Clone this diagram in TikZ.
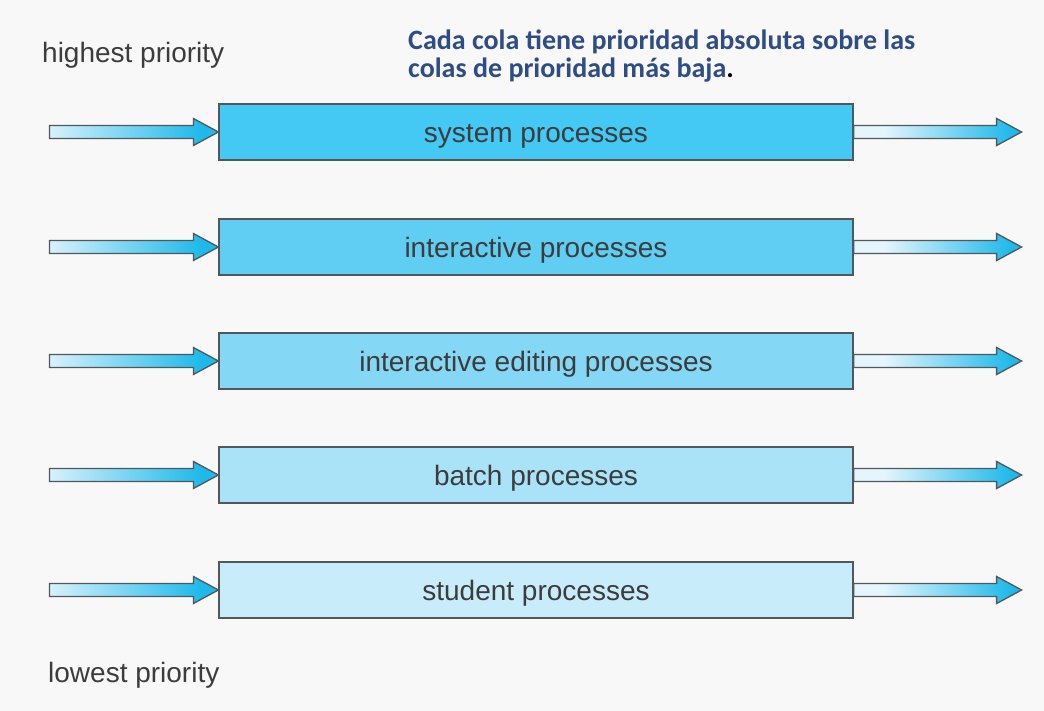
\documentclass[tikz,border=0pt]{standalone}
\usepackage{fontspec}
\setmainfont{Liberation Sans}
\newfontfamily\calfont{Carlito}
\usetikzlibrary{calc}
\definecolor{bg}{RGB}{248,248,248}
\definecolor{boxA}{RGB}{68,200,244}
\definecolor{boxB}{RGB}{96,205,243}
\definecolor{boxC}{RGB}{132,215,245}
\definecolor{boxD}{RGB}{170,226,248}
\definecolor{boxE}{RGB}{200,236,250}
\definecolor{edge}{RGB}{80,88,92}
\definecolor{txt}{RGB}{60,60,60}
\definecolor{title}{RGB}{46,76,133}
\definecolor{arrlight}{RGB}{228,245,252}
\definecolor{arrcyan}{RGB}{30,185,234}
\pgfdeclarehorizontalshading{inarrow}{100bp}{color(0bp)=(arrlight); color(22bp)=(arrlight); color(70bp)=(arrcyan); color(100bp)=(arrcyan)}
\pgfdeclarehorizontalshading{outarrow}{100bp}{color(0bp)=(boxC); color(25bp)=(arrlight); color(34bp)=(arrlight); color(72bp)=(arrcyan); color(100bp)=(arrcyan)}
\tikzset{
  queue/.style={draw=edge, line width=1.2pt, minimum width=634pt, minimum height=56pt,
    inner sep=0pt, text height=21pt, text depth=0pt, font=\fontsize{28}{32}\selectfont, text=txt},
  arrowbody/.style={draw=edge, line width=1.3pt, line join=miter},
  label/.style={font=\fontsize{28}{32}\selectfont, text=txt, inner sep=0pt},
}
\newcommand{\blockarrow}[3]{%
  \shadedraw[arrowbody, shading=#3] let \p1=(#1), \p2=(#2) in
    (\x1,\y1+6.5pt) -- (\x2-25pt,\y1+6.5pt) -- (\x2-25pt,\y1+13.5pt) -- (\x2,\y1)
    -- (\x2-25pt,\y1-13.5pt) -- (\x2-25pt,\y1-6.5pt) -- (\x1,\y1-6.5pt) -- cycle;}
\begin{document}
\begin{tikzpicture}[x=1pt,y=-1pt]
\fill[bg] (0,0) rectangle (1044,711);
\useasboundingbox (0,0) rectangle (1044,711);

\node[label, anchor=base west] (hi) at (42,63) {highest priority};
\node[label, anchor=base west] (lo) at (48,682) {lowest priority};
\node[anchor=base west, align=left, inner sep=0pt, text=title,
  font=\calfont\bfseries\fontsize{28}{28}\selectfont] (note) at (408,78)
  {Cada cola tiene prioridad absoluta sobre las\\colas de prioridad más baja\textcolor{black}{.}};

\node[queue, fill=boxA] (q1) at (536,132) {system processes};
\node[queue, fill=boxB] (q2) at (536,247) {interactive processes};
\node[queue, fill=boxC] (q3) at (536,361) {interactive editing processes};
\node[queue, fill=boxD] (q4) at (536,475) {batch processes};
\node[queue, fill=boxE] (q5) at (536,590) {student processes};

\foreach \q in {q1,q2,q3,q4,q5}{
  \coordinate (\q-in) at ($(\q.west)+(-169,0)$);
  \coordinate (\q-out) at ($(\q.east)+(168,0)$);
  \blockarrow{\q-in}{\q.west}{inarrow}
  \blockarrow{\q.east}{\q-out}{outarrow}
}
\end{tikzpicture}
\end{document}
